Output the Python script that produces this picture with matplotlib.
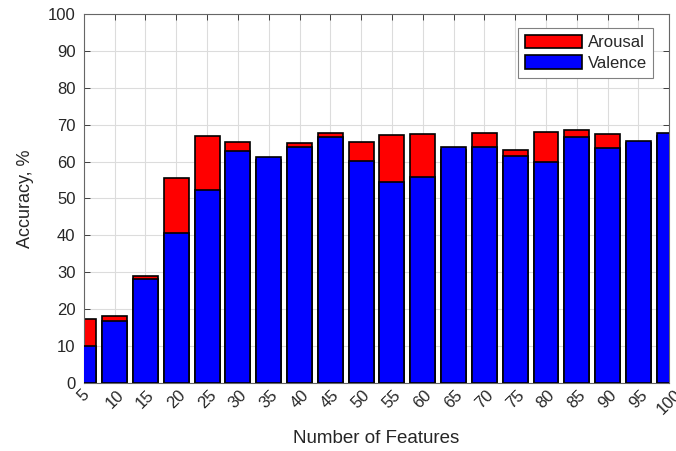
#!/usr/bin/env python3
"""
Accuracy vs number of features, arousal and valence bars overlaid
"""

import matplotlib
matplotlib.use('Agg')
import matplotlib.pyplot as plt

n_features = [5, 10, 15, 20, 25, 30, 35, 40, 45, 50,
              55, 60, 65, 70, 75, 80, 85, 90, 95, 100]
arousal = [17.3, 18.2, 28.9, 55.5, 66.9, 65.2, 60.5, 64.9, 67.8, 65.3,
           67.3, 67.4, 63.0, 67.8, 63.0, 68.1, 68.6, 67.4, 65.0, 67.0]
valence = [10.1, 16.8, 28.2, 40.6, 52.2, 62.9, 61.2, 63.9, 66.7, 60.2,
           54.4, 55.7, 63.9, 64.0, 61.4, 60.0, 66.7, 63.6, 65.7, 67.7]

plt.rcParams['font.family'] = ['Liberation Sans', 'DejaVu Sans']
text_col = '#262626'

fig = plt.figure(figsize=(6.76, 4.51), dpi=100)
ax = fig.add_axes([0.124, 0.151, 0.866, 0.818])

# red drawn first, blue on top of it
ax.bar(n_features, arousal, width=4.05, color='#ff0000', edgecolor='black',
       linewidth=1.2, label='Arousal', zorder=2)
ax.bar(n_features, valence, width=4.05, color='#0000ff', edgecolor='black',
       linewidth=1.2, label='Valence', zorder=3)

ax.set_xlim(5, 100)
ax.set_ylim(0, 100)
ax.set_xticks(n_features)
ax.set_xticklabels([str(v) for v in n_features], rotation=45,
                   ha='center', va='top')
ax.set_yticks(range(0, 101, 10))

ax.grid(True, color='#dcdcdc', linewidth=0.8, zorder=0)
ax.set_axisbelow(True)
for s in ax.spines.values():
    s.set_color('#666666')
    s.set_linewidth(0.8)
ax.tick_params(direction='in', top=True, right=True, length=4,
               labelsize=12, colors=text_col, width=0.6)
ax.tick_params(axis='x', pad=3)
ax.tick_params(axis='y', pad=6)

ax.set_xlabel('Number of Features', fontsize=13.5, color=text_col, labelpad=9)
ax.set_ylabel('Accuracy, %', fontsize=13, color=text_col, labelpad=10)

leg = ax.legend(loc='upper right', bbox_to_anchor=(0.973, 0.962),
                borderaxespad=0, fontsize=12, handlelength=3.4,
                handleheight=0.9, handletextpad=0.35, borderpad=0.4,
                labelspacing=0.3, fancybox=False, framealpha=1,
                edgecolor='#808080')
leg.get_frame().set_linewidth(0.8)
for t in leg.get_texts():
    t.set_color(text_col)

fig.savefig('out.png', dpi=100)
